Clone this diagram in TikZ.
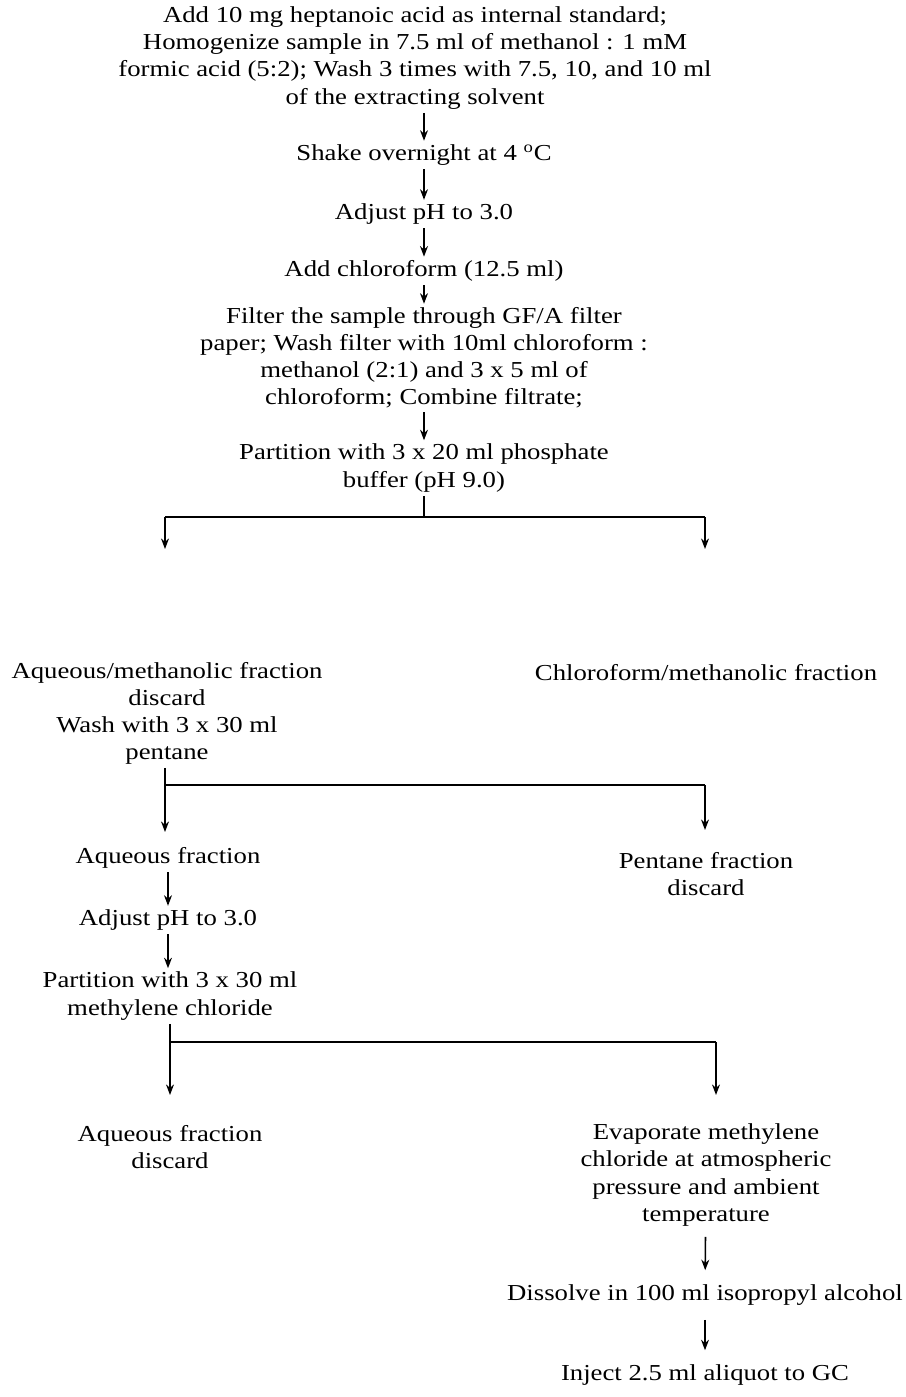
\documentclass[tikz,border=0pt]{standalone}
\usepackage{fontspec}
\setmainfont{Liberation Serif}[FakeStretch=1.17]
\usetikzlibrary{arrows.meta}

\tikzset{
  stepnode/.style={align=center, inner sep=2pt, font=\fontsize{13}{15.4}\selectfont},
  arr/.style={-{Stealth[length=6pt,width=4.5pt]}, line width=0.9pt},
  link/.style={line width=0.9pt}
}

\begin{document}
\begin{tikzpicture}[x=0.02cm, y=-0.02cm]
\useasboundingbox (0,0) rectangle (906,1397);

% main column
\node[stepnode] (start) at (415,58) {Add 10 mg heptanoic acid as internal standard;\\
  Homogenize sample in 7.5 ml of methanol : 1 mM\\
  formic acid (5:2); Wash 3 times with 7.5, 10, and 10 ml\\
  of the extracting solvent};
\node[stepnode] (shake) at (424,155) {Shake overnight at 4 \textsuperscript{o}C};
\node[stepnode] (ph1) at (424,214) {Adjust pH to 3.0};
\node[stepnode] (chcl) at (424,271) {Add chloroform (12.5 ml)};
\node[stepnode] (filter) at (424,358) {Filter the sample through GF/A filter\\
  paper; Wash filter with 10ml chloroform :\\
  methanol (2:1) and 3 x 5 ml of\\
  chloroform; Combine filtrate;};
\node[stepnode] (buffer) at (424,468) {Partition with 3 x 20 ml phosphate\\
  buffer (pH 9.0)};

\draw[arr] (start.south -| shake.north) -- (shake.north);
\draw[arr] (shake) -- (ph1);
\draw[arr] (ph1) -- (chcl);
\draw[arr] (chcl) -- (filter);
\draw[arr] (filter) -- (buffer);

% first split
\coordinate (j1) at (424,517);
\coordinate (l1) at (165,517);
\coordinate (r1) at (705,517);
\coordinate (l1e) at (165,549);
\coordinate (r1e) at (705,549);
\draw[link] (buffer) -- (j1);
\draw[link] (l1) -- (r1);
\draw[arr] (l1) -- (l1e);
\draw[arr] (r1) -- (r1e);

\node[stepnode] (aqmeoh) at (167,713) {Aqueous/methanolic fraction\\
  discard\\
  Wash with 3 x 30 ml\\
  pentane};
\node[stepnode] (chmeoh) at (706,673) {Chloroform/methanolic fraction};

% pentane wash
\coordinate (b2) at (165,785);
\coordinate (b2r) at (705,785);
\coordinate (b2l) at (165,832);
\coordinate (b2e) at (705,830);
\node[stepnode] (aqf1) at (168,858) {Aqueous fraction};
\node[stepnode] (pent) at (706,874) {Pentane fraction\\ discard};
\draw[arr] (b2 |- aqmeoh.south) -- (b2l);
\draw[link] (b2) -- (b2r);
\draw[arr] (b2r) -- (b2e);

% left column
\node[stepnode] (ph2) at (168,920) {Adjust pH to 3.0};
\node[stepnode] (mecl) at (170,996) {Partition with 3 x 30 ml\\ methylene chloride};
\draw[arr] (aqf1) -- (ph2);
\draw[arr] (ph2) -- (ph2 |- mecl.north);

% second split
\coordinate (b3) at (170,1042);
\coordinate (b3r) at (716,1042);
\coordinate (b3l) at (170,1095);
\coordinate (b3e) at (716,1095);
\node[stepnode] (aqf2) at (170,1147) {Aqueous fraction\\ discard};
\node[stepnode] (evap) at (706,1175) {Evaporate methylene\\
  chloride at atmospheric\\
  pressure and ambient\\
  temperature};
\draw[arr] (b3 |- mecl.south) -- (b3l);
\draw[link] (b3) -- (b3r);
\draw[arr] (b3r) -- (b3e);

% right column
\node[stepnode] (dissolve) at (705,1295) {Dissolve in 100 ml isopropyl alcohol};
\node[stepnode] (inject) at (705,1375) {Inject 2.5 ml aliquot to GC};
\draw[arr, shorten <=4pt, shorten >=6pt] (evap) -- (dissolve);
\draw[arr, shorten <=6pt, shorten >=6pt] (dissolve) -- (inject);
\end{tikzpicture}
\end{document}
